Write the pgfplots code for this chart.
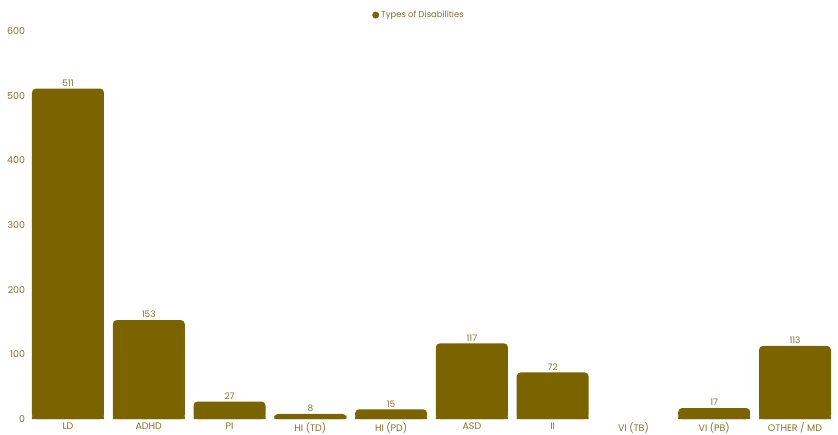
\documentclass[border=0pt]{standalone}
\usepackage{pgfplots}
\pgfplotsset{compat=1.18}
\usepackage{fontspec}
\setmainfont{Poppins}
\definecolor{barc}{HTML}{7B6300}
\definecolor{txtc}{HTML}{84702A}
\begin{document}
\begin{tikzpicture}
\path[use as bounding box] (-27.6bp,-16bp) rectangle (810.4bp,419bp);
\begin{axis}[
  at={(0,0)}, anchor=south west,
  scale only axis, width=807.8bp, height=388bp,
  xmin=-0.5, xmax=9.5, ymin=0, ymax=600,
  ytick={0,100,...,600},
  xtick={0,...,9},
  xticklabels={LD,ADHD,PI,HI (TD),HI (PD),ASD,II,VI (TB),VI (PB),OTHER / MD},
  axis line style={draw=none},
  tick style={draw=none},
  ticklabel style={font=\fontsize{9.5}{11}\selectfont, text=txtc},
  /pgf/number format/assume math mode=true,
  xticklabel style={yshift=-0.5bp},
  yticklabel style={xshift=1bp},
  clip=false,
  unbounded coords=discard,
  legend style={at={(0.4845,1.041)}, anchor=center, draw=none, fill=none,
    font=\fontsize{8.5}{10}\selectfont, text=txtc, inner sep=0pt},
  legend image code/.code={\fill[barc] (0.1cm,0) circle (3.5bp);},
]
\addplot[ybar, bar width=72bp, fill=barc, draw=none, rounded corners=4bp,
  y filter/.expression={y==0?nan:y},
  nodes near coords={\pgfmathprintnumber{\pgfplotspointmeta}},
  every node near coord/.append style={font=\fontsize{9}{10}\selectfont, text=txtc, yshift=-1.5bp}]
  table[x=x, y=y] {
x y
0 511
1 153
2 27
3 8
4 15
5 117
6 72
7 0
8 17
9 113
};
\addlegendentry{Types of Disabilities}
\addplot[ybar, bar width=72bp, fill=barc, draw=none, forget plot,
  y filter/.expression={y==0?nan:(y>4?4:y)}]
  table[x=x, y=y] {
x y
0 511
1 153
2 27
3 8
4 15
5 117
6 72
7 0
8 17
9 113
};
\end{axis}
\end{tikzpicture}
\end{document}
